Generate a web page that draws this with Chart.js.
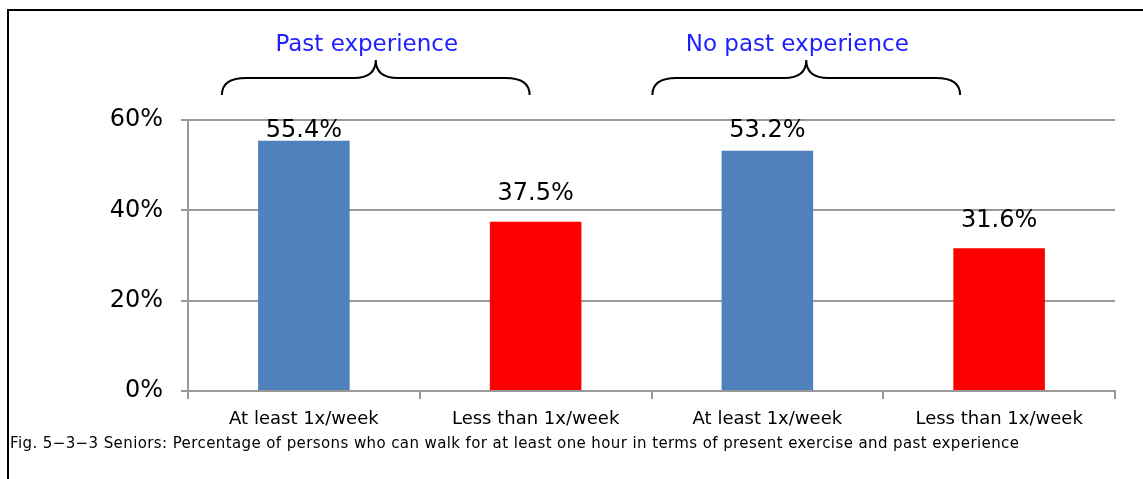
<!DOCTYPE html>
<html lang="en">
<head>
    <meta charset="UTF-8">
    <title>Seniors walking for one hour</title>
    <script src="https://cdn.jsdelivr.net/npm/chart.js"></script>
    <style>
        html, body {
            margin: 0;
            padding: 0;
            background: #fff;
            overflow: hidden;
            width: 1143px;
            height: 479px;
            font-family: "DejaVu Sans", sans-serif;
        }

        .frame {
            position: absolute;
            left: 7px;
            top: 9px;
            width: 1136px;
            height: 470px;
            box-sizing: border-box;
            border-top: 2px solid #000;
            border-left: 2px solid #000;
        }

        #chart {
            position: absolute;
            left: 0;
            top: 0;
        }

        .caption {
            position: absolute;
            left: 10px;
            top: 434px;
            font-size: 15px;
            letter-spacing: 0.4px;
            color: #000;
            white-space: nowrap;
        }
    </style>
</head>
<body>
    <div class="frame"></div>
    <canvas id="chart" width="1143" height="479"></canvas>
    <div class="caption">Fig. 5−3−3 Seniors: Percentage of persons who can walk for at least one hour in terms of present exercise and past experience</div>

    <script>
        const categories = ['At least 1x/week', 'Less than 1x/week', 'At least 1x/week', 'Less than 1x/week'];
        const values = [55.4, 37.5, 53.2, 31.6];
        const barColors = ['#4F81BD', '#FF0000', '#4F81BD', '#FF0000'];
        const groupTitles = ['Past experience', 'No past experience'];
        const yTicks = [0, 20, 40, 60];

        // value labels above each bar
        const valueLabels = {
            id: 'valueLabels',
            afterDatasetsDraw(chart) {
                const ctx = chart.ctx;
                const meta = chart.getDatasetMeta(0);
                ctx.save();
                ctx.font = '24px "DejaVu Sans", sans-serif';
                ctx.fillStyle = '#000';
                ctx.textAlign = 'center';
                ctx.textBaseline = 'middle';
                meta.data.forEach((bar, i) => {
                    const y = Math.max(bar.y - 28, chart.chartArea.top + 11);
                    ctx.fillText(values[i].toFixed(1) + '%', bar.x, y);
                });
                ctx.restore();
            }
        };

        // curly braces and titles over each pair of bars
        const groupBraces = {
            id: 'groupBraces',
            afterDraw(chart) {
                const ctx = chart.ctx;
                const x = chart.scales.x;
                const spans = [
                    [x.getPixelForValue(0) - 82, x.getPixelForValue(1) - 6],
                    [x.getPixelForValue(2) - 115, x.getPixelForValue(3) - 39]
                ];
                const yEnd = 95, yLine = 78, yPeak = 60;
                ctx.save();
                ctx.strokeStyle = '#000';
                ctx.lineWidth = 2;
                spans.forEach(([l, r], i) => {
                    const m = (l + r) / 2;
                    ctx.beginPath();
                    ctx.moveTo(l, yEnd);
                    ctx.quadraticCurveTo(l, yLine, l + 24, yLine);
                    ctx.lineTo(m - 22, yLine);
                    ctx.quadraticCurveTo(m, yLine, m, yPeak);
                    ctx.quadraticCurveTo(m, yLine, m + 22, yLine);
                    ctx.lineTo(r - 24, yLine);
                    ctx.quadraticCurveTo(r, yLine, r, yEnd);
                    ctx.stroke();

                    ctx.font = '23px "DejaVu Sans", sans-serif';
                    ctx.fillStyle = '#1E1EFF';
                    ctx.textAlign = 'center';
                    ctx.textBaseline = 'middle';
                    ctx.fillText(groupTitles[i], m - 9, 45);
                });
                ctx.restore();
            }
        };

        new Chart(document.getElementById('chart'), {
            type: 'bar',
            data: {
                labels: categories,
                datasets: [{
                    data: values,
                    backgroundColor: barColors,
                    categoryPercentage: 1,
                    barPercentage: 0.395
                }]
            },
            options: {
                responsive: false,
                animation: false,
                layout: { padding: { top: 120, right: 28, left: 0, bottom: 0 } },
                plugins: {
                    legend: { display: false },
                    tooltip: { enabled: false }
                },
                scales: {
                    y: {
                        min: 0,
                        max: 60,
                        afterBuildTicks(axis) {
                            axis.ticks = yTicks.map(v => ({ value: v }));
                        },
                        afterFit(axis) { axis.width = 188; },
                        ticks: {
                            callback: v => v + '%',
                            color: '#000',
                            padding: 18,
                            font: { family: '"DejaVu Sans", sans-serif', size: 24 }
                        },
                        grid: { color: '#999', lineWidth: 2, tickLength: 7 },
                        border: { color: '#999', width: 2 }
                    },
                    x: {
                        afterFit(axis) { axis.height = 88; },
                        ticks: {
                            color: '#000',
                            padding: 10,
                            maxRotation: 0,
                            font: { family: '"DejaVu Sans", sans-serif', size: 18 }
                        },
                        grid: { drawOnChartArea: false, offset: true, color: '#999', lineWidth: 2, tickLength: 8 },
                        border: { color: '#999', width: 2 }
                    }
                }
            },
            plugins: [valueLabels, groupBraces]
        });
    </script>
</body>
</html>
